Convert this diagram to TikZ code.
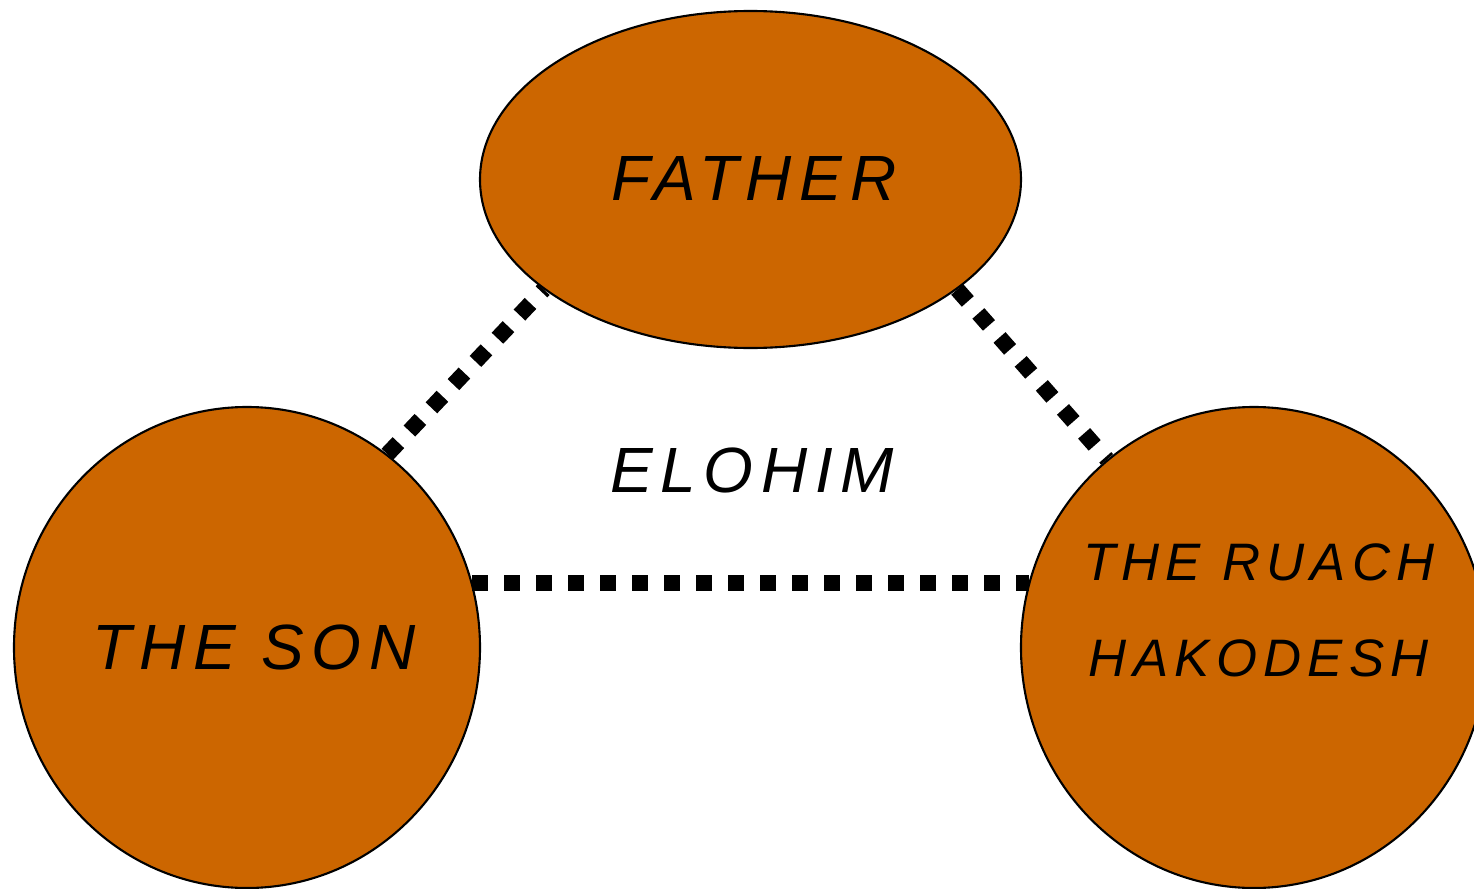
\documentclass[tikz,border=0pt]{standalone}
\usepackage{fontspec}
\usepackage{xcolor}
\usetikzlibrary{calc}
\usetikzlibrary{shapes.geometric}
\setmainfont{Liberation Sans}
\newfontfamily\trinityfont[LetterSpace=12]{Liberation Sans}
\definecolor{trinity}{HTML}{CC6600}

\begin{document}
\begin{tikzpicture}

\useasboundingbox (0,0) rectangle (14.74,8.88);

\tikzset{
    person/.style = {
    ellipse,
    draw=black,
    line width=0.6pt,
    fill=trinity,
    inner sep=0pt
    }
}

\tikzstyle{nom}=[inner sep=0pt, align=center, font=\trinityfont\itshape\fontsize{18.2}{22}\selectfont]
\tikzstyle{petitnom}=[inner sep=0pt, align=center, font=\trinityfont\itshape\fontsize{15}{27.2}\selectfont]
\tikzstyle{lien}=[line width=4.55pt, dash pattern=on 4.55pt off 4.55pt]

\node (father) [person, minimum width=5.41cm, minimum height=3.37cm] at (7.505,7.085) {};
\node (son) [person, minimum width=4.66cm, minimum height=4.81cm] at (2.47,2.405) {};
\node (ruach) [person, minimum width=4.66cm, minimum height=4.81cm] at (12.54,2.405) {};

\node (father-t) [nom] at ([shift=({0.035,0.015})]father.center) {FATHER};
\node (son-t) [nom] at ([shift=({0.07,0})]son.center) {THE SON};
\node (ruach-t) [petitnom] at ([shift=({0.05,0.37})]ruach.center) {THE RUACH\\HAKODESH};
\node (elohim) [nom] at ([shift=({0.015,-1.21})]father.south) {ELOHIM};

\draw [lien] (son.54.5) -- (father.208.4);
\draw [lien] (father.332.2) -- (ruach.128);
\draw [lien] (son.16) -- (ruach.164);

\end{tikzpicture}
\end{document}
